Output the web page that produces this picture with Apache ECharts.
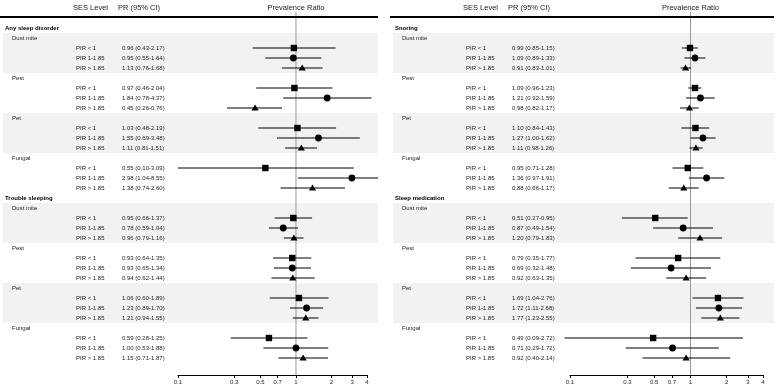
<!DOCTYPE html>
<html><head><meta charset="utf-8">
<script src="https://cdn.jsdelivr.net/npm/echarts@6/dist/echarts.min.js"></script>
<style>html,body{margin:0;padding:0;background:#fff}#c{width:776px;height:386px}</style>
</head><body><div id="c"></div>
<script>
const tickValues = [0.1, 0.3, 0.5, 0.7, 1, 2, 3, 4];
const sesLevels = ['PIR < 1', 'PIR 1-1.85', 'PIR > 1.85'];
const allergens = ['Dust mite', 'Pest', 'Pet', 'Fungal'];
const leftOutcomes = ['Any sleep disorder', 'Trouble sleeping'];
const rightOutcomes = ['Snoring', 'Sleep medication'];

// order: Dust mite (3 SES), Pest, Pet, Fungal
const anySleepPR    = [0.96, 0.95, 1.13, 0.97, 1.84, 0.45, 1.03, 1.55, 1.11, 0.55, 2.98, 1.38];
const anySleepLower = [0.43, 0.55, 0.76, 0.46, 0.78, 0.26, 0.48, 0.69, 0.81, 0.10, 1.04, 0.74];
const anySleepUpper = [2.17, 1.64, 1.68, 2.04, 4.37, 0.76, 2.19, 3.48, 1.51, 3.09, 8.55, 2.60];

const troublePR    = [0.95, 0.78, 0.96, 0.93, 0.93, 0.94, 1.06, 1.23, 1.21, 0.59, 1.00, 1.15];
const troubleLower = [0.66, 0.59, 0.79, 0.64, 0.65, 0.62, 0.60, 0.89, 0.94, 0.28, 0.53, 0.71];
const troubleUpper = [1.37, 1.04, 1.16, 1.35, 1.34, 1.44, 1.89, 1.70, 1.55, 1.25, 1.88, 1.87];

const snoringPR    = [0.99, 1.09, 0.91, 1.09, 1.21, 0.98, 1.10, 1.27, 1.11, 0.95, 1.36, 0.88];
const snoringLower = [0.85, 0.89, 0.83, 0.96, 0.92, 0.82, 0.84, 1.00, 0.98, 0.71, 0.97, 0.66];
const snoringUpper = [1.15, 1.33, 1.01, 1.23, 1.59, 1.17, 1.43, 1.62, 1.26, 1.28, 1.91, 1.17];

const medicationPR    = [0.51, 0.87, 1.20, 0.79, 0.69, 0.92, 1.69, 1.72, 1.77, 0.49, 0.71, 0.92];
const medicationLower = [0.27, 0.49, 0.79, 0.35, 0.32, 0.63, 1.04, 1.11, 1.23, 0.09, 0.29, 0.40];
const medicationUpper = [0.95, 1.54, 1.83, 1.77, 1.48, 1.35, 2.76, 2.68, 2.55, 2.72, 1.72, 2.14];

const FONT = '"Liberation Sans", Arial, sans-serif';
const TXT = '#222';

function buildRows(outcomes, prs, los, his) {
  const rows = [];
  outcomes.forEach((o, oi) => {
    rows.push({ kind: 'outcome', label: o });
    allergens.forEach((a, ai) => {
      rows.push({ kind: 'allergen', label: a, band: ai % 2 === 0 });
      sesLevels.forEach((s, si) => {
        const k = ai * 3 + si;
        rows.push({ kind: 'est', ses: s, si: si, pr: prs[oi][k], lo: los[oi][k], hi: his[oi][k] });
      });
    });
  });
  return rows;
}

const panels = [
  { rows: buildRows(leftOutcomes, [anySleepPR, troublePR], [anySleepLower, troubleLower], [anySleepUpper, troubleUpper]),
    offset: 0, gridLeft: 178, gridWidth: 189, panelRight: 378 },
  { rows: buildRows(rightOutcomes, [snoringPR, medicationPR], [snoringLower, medicationLower], [snoringUpper, medicationUpper]),
    offset: 390, gridLeft: 570, gridWidth: 193, panelRight: 774 }
];

const lg = v => Math.log10(v);
const fmt = v => v.toFixed(2);

const grids = [], xAxes = [], yAxes = [], series = [];
panels.forEach((p, pi) => {
  grids.push({ left: p.gridLeft, width: p.gridWidth, top: 23, height: 352 });
  xAxes.push({
    gridIndex: pi, type: 'value', min: -1, max: lg(4), position: 'bottom',
    axisLine: { show: true, onZero: false, lineStyle: { color: '#000', width: 1 } },
    axisTick: { show: true, customValues: tickValues.map(lg), length: 3, lineStyle: { color: '#000' } },
    axisLabel: { customValues: tickValues.map(lg), fontSize: 6, color: '#222', fontFamily: FONT, margin: 4,
      formatter: v => String(parseFloat(Math.pow(10, v).toFixed(1))) },
    splitLine: { show: false }
  });
  yAxes.push({ gridIndex: pi, type: 'value', inverse: true, min: 0, max: 35.2, show: false });

  const rows = p.rows;
  const bandStarts = [];
  rows.forEach((r, i) => { if (r.kind === 'allergen' && r.band) bandStarts.push(i); });

  // shaded bands
  series.push({
    type: 'custom', xAxisIndex: pi, yAxisIndex: pi, clip: false, z: 1, silent: true,
    data: bandStarts,
    renderItem: (params, api) => {
      const i = api.value(0);
      const y0 = api.coord([0, i])[1], y1 = api.coord([0, i + 4])[1];
      return { type: 'rect', shape: { x: p.offset + 3, y: y0, width: p.panelRight - p.offset - 3, height: y1 - y0 },
        style: { fill: '#f2f2f2' } };
    }
  });
  // header + reference line
  series.push({
    type: 'custom', xAxisIndex: pi, yAxisIndex: pi, clip: false, z: 2, silent: true,
    data: [[0]],
    renderItem: (params, api) => {
      const xr = api.coord([lg(1), 0])[0];
      const yTop = api.coord([0, -1.1])[1];
      const yBot = api.coord([0, 35.2])[1];
      const yHead = api.coord([0, -1.5])[1];
      const yRule = api.coord([0, -0.6])[1];
      return { type: 'group', children: [
        { type: 'line', shape: { x1: xr, y1: yTop, x2: xr, y2: yBot }, style: { stroke: '#999', lineWidth: 1 } },
        { type: 'line', shape: { x1: p.offset, y1: yRule, x2: p.panelRight, y2: yRule }, style: { stroke: '#000', lineWidth: 2 } },
        { type: 'text', x: p.offset + 73, y: yHead, style: { text: 'SES Level', font: '7.5px ' + FONT, fill: TXT, align: 'left', verticalAlign: 'middle' } },
        { type: 'text', x: p.offset + 118, y: yHead, style: { text: 'PR (95% CI)', font: '7.5px ' + FONT, fill: TXT, align: 'left', verticalAlign: 'middle' } },
        { type: 'text', x: xr, y: yHead, style: { text: 'Prevalence Ratio', font: '7.5px ' + FONT, fill: TXT, align: 'center', verticalAlign: 'middle' } }
      ] };
    }
  });
  // text columns
  series.push({
    type: 'custom', xAxisIndex: pi, yAxisIndex: pi, clip: false, z: 3, silent: true,
    data: rows.map((r, i) => [i]),
    renderItem: (params, api) => {
      const i = api.value(0);
      const r = rows[i];
      const y = api.coord([0, i + 0.5])[1];
      if (r.kind === 'outcome') {
        return { type: 'text', x: p.offset + 5, y: y, style: { text: r.label, font: 'bold 6px ' + FONT, fill: '#000', align: 'left', verticalAlign: 'middle' } };
      }
      if (r.kind === 'allergen') {
        return { type: 'text', x: p.offset + 12, y: y, style: { text: r.label, font: '6px ' + FONT, fill: TXT, align: 'left', verticalAlign: 'middle' } };
      }
      return { type: 'group', children: [
        { type: 'text', x: p.offset + 76, y: y, style: { text: r.ses, font: '6px ' + FONT, fill: TXT, align: 'left', verticalAlign: 'middle' } },
        { type: 'text', x: p.offset + 122, y: y, style: { text: fmt(r.pr) + ' (' + fmt(r.lo) + '-' + fmt(r.hi) + ')', font: '6px ' + FONT, fill: TXT, align: 'left', verticalAlign: 'middle' } }
      ] };
    }
  });
  // estimates
  const estIdx = [];
  rows.forEach((r, i) => { if (r.kind === 'est') estIdx.push([i, lg(r.pr), lg(r.lo), lg(r.hi), r.si]); });
  series.push({
    type: 'custom', xAxisIndex: pi, yAxisIndex: pi, clip: false, z: 4, silent: true,
    data: estIdx,
    renderItem: (params, api) => {
      const i = api.value(0);
      const y = api.coord([0, i + 0.5])[1];
      const xp = api.coord([api.value(1), 0])[0];
      let x1 = api.coord([api.value(2), 0])[0];
      let x2 = api.coord([api.value(3), 0])[0];
      x2 = Math.min(x2, p.panelRight);
      const si = api.value(4);
      let marker;
      if (si === 0) marker = { type: 'rect', shape: { x: xp - 3.2, y: y - 3.2, width: 6.4, height: 6.4 }, style: { fill: '#000' } };
      else if (si === 1) marker = { type: 'circle', shape: { cx: xp, cy: y, r: 3.4 }, style: { fill: '#000' } };
      else marker = { type: 'polygon', shape: { points: [[xp, y - 3.5], [xp - 3.6, y + 2.6], [xp + 3.6, y + 2.6]] }, style: { fill: '#000' } };
      return { type: 'group', children: [
        { type: 'line', shape: { x1: x1, y1: y, x2: x2, y2: y }, style: { stroke: '#000', lineWidth: 1 } },
        marker
      ] };
    }
  });
});

const chart = echarts.init(document.getElementById('c'), null, { renderer: 'canvas' });
chart.setOption({ animation: false, backgroundColor: '#fff', grid: grids, xAxis: xAxes, yAxis: yAxes, series: series });
</script>
</body></html>
